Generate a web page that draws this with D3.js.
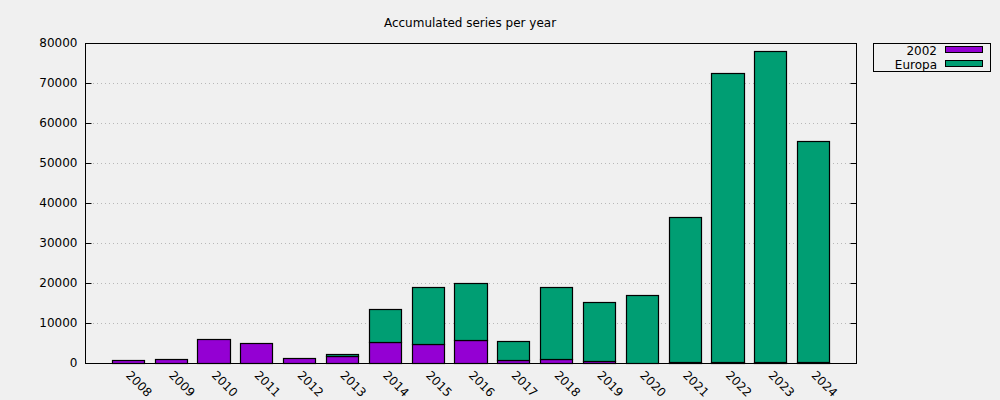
<!DOCTYPE html>
<html><head><meta charset="utf-8">
<script src="https://cdn.jsdelivr.net/npm/d3@7"></script>
<style>body{margin:0;background:#f0f0f0;}svg{display:block;font-family:"DejaVu Sans",sans-serif;}</style>
</head><body>
<svg id="c" width="1000" height="400"></svg>
<script>
const years = ["2008","2009","2010","2011","2012","2013","2014","2015","2016","2017","2018","2019","2020","2021","2022","2023","2024"];
const series2002 = [800,1050,6000,5000,1300,1700,5200,4700,5700,700,900,400,0,200,200,200,200];
const seriesEuropa = [0,0,0,0,0,600,8200,14300,14300,4700,18100,14800,16900,36300,72400,77800,55300];
const seriesNames = ["2002","Europa"];
const seriesColors = ["#9400d3","#009e73"];
const yTicks = [0,10000,20000,30000,40000,50000,60000,70000,80000];
const title = "Accumulated series per year";

const svg = d3.select("#c");
const L=85,R=856,T=43,B=363;
const x = d3.scaleLinear().domain([-1,17]).range([L,R]);
const y = d3.scaleLinear().domain([0,80000]).range([B,T]);
const bw = 0.75;

// grid
svg.append("g").selectAll("line").data(yTicks.filter(t=>t>0&&t<80000)).join("line")
  .attr("x1",L).attr("x2",R).attr("y1",d=>y(d)+0.5).attr("y2",d=>y(d)+0.5)
  .attr("stroke","#b8b8b8").attr("stroke-width",1).attr("stroke-dasharray","1,3");

// stacked data
const rows = years.map((yr,i)=>({yr,i,v:[series2002[i],seriesEuropa[i]]}));
const stack = d3.stack().keys([0,1]).value((d,k)=>d.v[k]);
const layers = stack(rows);
layers.forEach((layer,k)=>{
  svg.append("g").selectAll("rect").data(layer.filter(d=>d[1]-d[0]>0)).join("rect")
    .attr("x",d=>Math.round(x(d.data.i-bw/2))+0.5)
    .attr("width",d=>Math.round(x(d.data.i+bw/2))-Math.round(x(d.data.i-bw/2)))
    .attr("y",d=>Math.round(y(d[1]))+0.5)
    .attr("height",d=>Math.max(0,Math.round(y(d[0]))-Math.round(y(d[1]))))
    .attr("fill",seriesColors[k]).attr("stroke","#000").attr("stroke-width",1.2);
});

// border
svg.append("rect").attr("x",L+0.5).attr("y",T+0.5).attr("width",R-L).attr("height",B-T)
  .attr("fill","none").attr("stroke","#000").attr("stroke-width",1);

// y axis (left + mirrored right)
const yAxisL = d3.axisLeft(y).tickValues(yTicks).tickSize(-6).tickPadding(8).tickFormat(d3.format("d"));
const gL = svg.append("g").attr("transform",`translate(${L+0.5},0)`).call(yAxisL);
gL.select(".domain").remove();
gL.selectAll("text").attr("font-size",12).attr("fill","#000").attr("font-family","DejaVu Sans");
gL.selectAll("line").attr("stroke","#000");
const yAxisR = d3.axisRight(y).tickValues(yTicks).tickSize(-6).tickFormat("");
const gR = svg.append("g").attr("transform",`translate(${R+0.5},0)`).call(yAxisR);
gR.select(".domain").remove();
gR.selectAll("line").attr("stroke","#000");

// x labels
const xAxis = d3.axisBottom(x).tickValues(d3.range(years.length)).tickSize(0).tickFormat(i=>years[i]);
const gx = svg.append("g").attr("transform",`translate(0,${B})`).call(xAxis);
gx.select(".domain").remove();
gx.selectAll("text").attr("font-size",12).attr("fill","#000").attr("font-family","DejaVu Sans")
  .attr("text-anchor","start").attr("dy",null).attr("y",null)
  .attr("dominant-baseline","middle")
  .attr("transform","translate(-0.5,10.5) rotate(45)");

// title
svg.append("text").attr("x",470).attr("y",27).attr("text-anchor","middle")
  .attr("font-size",12).text(title);

// legend
const lg = svg.append("g");
lg.append("rect").attr("x",873.5).attr("y",43.5).attr("width",117).attr("height",28)
  .attr("fill","none").attr("stroke","#000");
seriesNames.forEach((n,k)=>{
  const yy = 50 + k*14;
  lg.append("text").attr("x",937).attr("y",yy+5).attr("text-anchor","end").attr("font-size",12).text(n);
  lg.append("rect").attr("x",945.5).attr("y",yy-3.5).attr("width",37).attr("height",6)
    .attr("fill",seriesColors[k]).attr("stroke","#000");
});
</script>
</body></html>
